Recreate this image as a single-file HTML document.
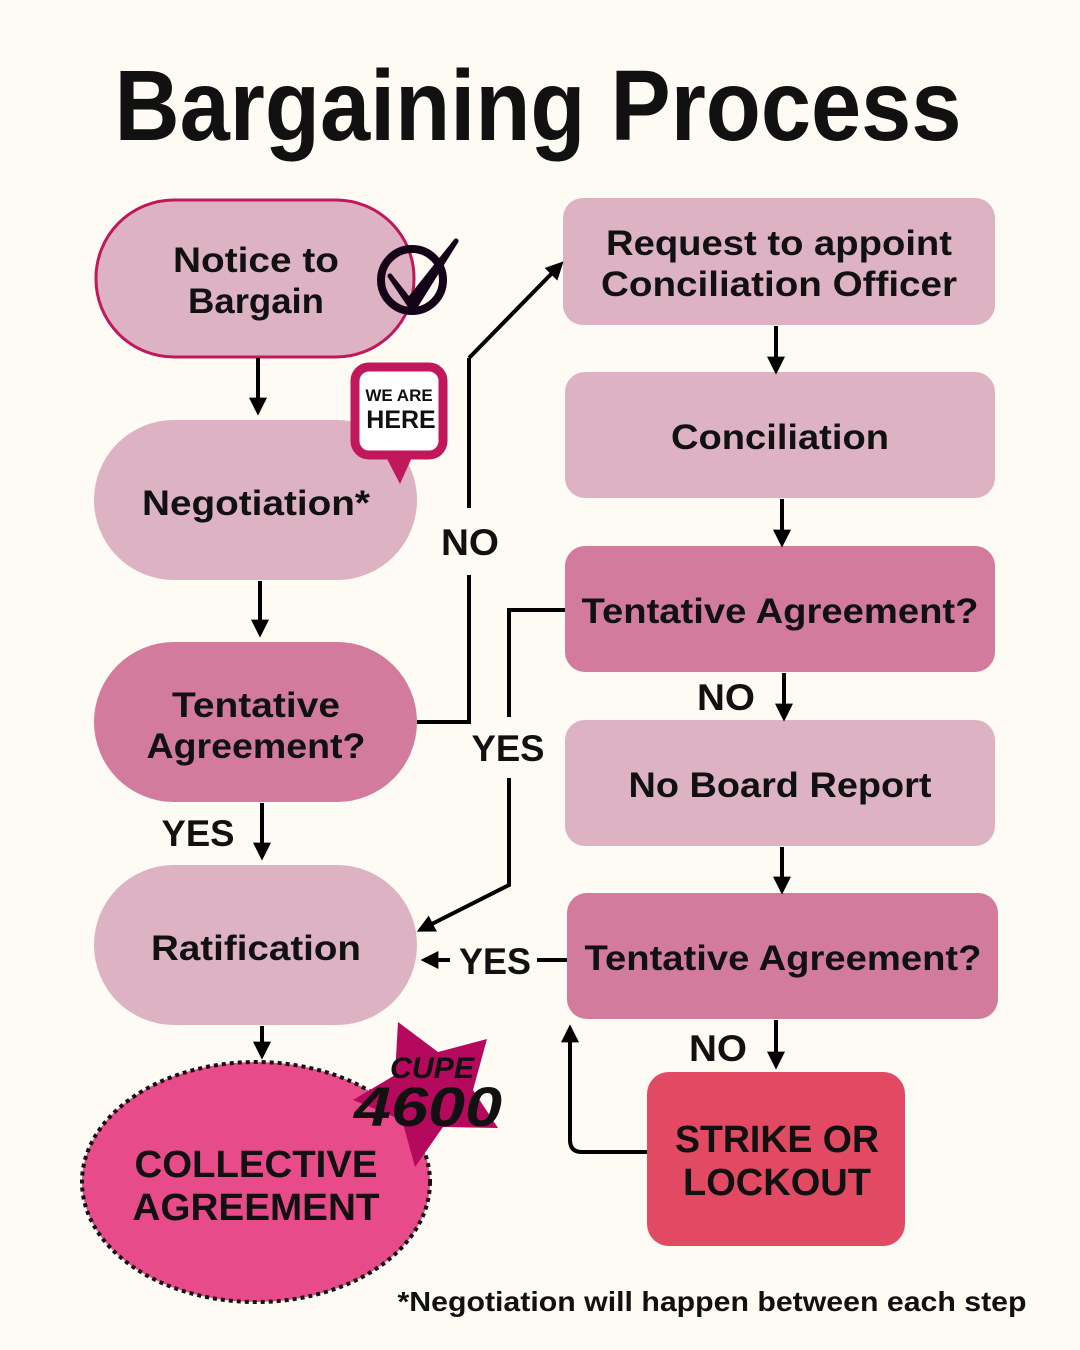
<!DOCTYPE html>
<html><head><meta charset="utf-8"><style>
html,body{margin:0;padding:0;background:#fefbf4;}
svg{display:block;}
text{font-family:"Liberation Sans",sans-serif;font-weight:bold;fill:#111;}
</style></head><body>
<svg width="1080" height="1350" viewBox="0 0 1080 1350" xmlns="http://www.w3.org/2000/svg">
<defs>
<marker id="ah" viewBox="0 0 10 10" refX="8" refY="5" markerWidth="4.5" markerHeight="4.5" orient="auto"><path d="M0,0 L10,5 L0,10 z" fill="#000"/></marker>
</defs>
<rect width="1080" height="1350" fill="#fefbf4"/>
<text x="538" y="140" font-size="100" text-anchor="middle" textLength="847" lengthAdjust="spacingAndGlyphs">Bargaining Process</text>

<!-- left column -->
<rect x="96" y="200" width="318" height="157" rx="78" fill="#ddb2c3" stroke="#c0185a" stroke-width="3"/>
<text x="256" y="272" font-size="35" text-anchor="middle" textLength="166" lengthAdjust="spacingAndGlyphs">Notice to</text>
<text x="256" y="313" font-size="35" text-anchor="middle" textLength="136" lengthAdjust="spacingAndGlyphs">Bargain</text>
<circle cx="412" cy="280" r="31" fill="none" stroke="#150418" stroke-width="8"/>
<path d="M390,276 L409,300 L456,241 L413,310 Z" fill="#150418" stroke="#150418" stroke-width="5" stroke-linejoin="round"/>

<rect x="94" y="420" width="323" height="160" rx="80" fill="#ddb2c3"/>
<text x="256" y="515" font-size="35" text-anchor="middle" textLength="228" lengthAdjust="spacingAndGlyphs">Negotiation*</text>
<!-- we are here -->
<rect x="355" y="367" width="88" height="88" rx="14" fill="#fff" stroke="#c0185a" stroke-width="9"/>
<path d="M385,455 L413,455 L400,484 Z" fill="#c0185a"/>
<text x="399" y="401" font-size="17" text-anchor="middle">WE ARE</text>
<text x="401" y="428" font-size="25" text-anchor="middle">HERE</text>

<rect x="94" y="642" width="323" height="160" rx="80" fill="#d27b9c"/>
<text x="256" y="717" font-size="35" text-anchor="middle" textLength="168" lengthAdjust="spacingAndGlyphs">Tentative</text>
<text x="256" y="758" font-size="35" text-anchor="middle" textLength="219" lengthAdjust="spacingAndGlyphs">Agreement?</text>

<rect x="94" y="865" width="323" height="160" rx="80" fill="#ddb2c3"/>
<text x="256" y="960" font-size="35" text-anchor="middle" textLength="210" lengthAdjust="spacingAndGlyphs">Ratification</text>

<ellipse cx="256" cy="1182" rx="174" ry="120" fill="#e84b8a" stroke="#111" stroke-width="4" stroke-dasharray="4,4"/>
<text x="256" y="1177" font-size="38" text-anchor="middle" textLength="243" lengthAdjust="spacingAndGlyphs">COLLECTIVE</text>
<text x="256" y="1220" font-size="38" text-anchor="middle" textLength="247" lengthAdjust="spacingAndGlyphs">AGREEMENT</text>
<!-- star -->
<path d="M398,1022 L438,1052 L487,1039 L473,1090 L498,1128 L443,1127 L415,1167 L402,1120 L353,1100 L395,1075 Z" fill="#b5095e"/>
<text x="432" y="1078" font-size="30" font-style="italic" text-anchor="middle" textLength="84" lengthAdjust="spacingAndGlyphs">CUPE</text>
<text x="428" y="1126" font-size="56" font-style="italic" text-anchor="middle" textLength="148" lengthAdjust="spacingAndGlyphs">4600</text>

<!-- right column -->
<rect x="563" y="198" width="432" height="127" rx="20" fill="#ddb2c3"/>
<text x="779" y="255" font-size="35" text-anchor="middle" textLength="346" lengthAdjust="spacingAndGlyphs">Request to appoint</text>
<text x="779" y="296" font-size="35" text-anchor="middle" textLength="356" lengthAdjust="spacingAndGlyphs">Conciliation Officer</text>
<rect x="565" y="372" width="430" height="126" rx="20" fill="#ddb2c3"/>
<text x="780" y="449" font-size="35" text-anchor="middle" textLength="218" lengthAdjust="spacingAndGlyphs">Conciliation</text>
<rect x="565" y="546" width="430" height="126" rx="20" fill="#d27b9c"/>
<text x="780" y="623" font-size="35" text-anchor="middle" textLength="397" lengthAdjust="spacingAndGlyphs">Tentative Agreement?</text>
<rect x="565" y="720" width="430" height="126" rx="20" fill="#ddb2c3"/>
<text x="780" y="797" font-size="35" text-anchor="middle" textLength="303" lengthAdjust="spacingAndGlyphs">No Board Report</text>
<rect x="567" y="893" width="431" height="126" rx="20" fill="#d27b9c"/>
<text x="783" y="970" font-size="35" text-anchor="middle" textLength="397" lengthAdjust="spacingAndGlyphs">Tentative Agreement?</text>
<rect x="647" y="1072" width="258" height="174" rx="22" fill="#e24a63"/>
<text x="777" y="1152" font-size="38" text-anchor="middle" textLength="204" lengthAdjust="spacingAndGlyphs">STRIKE OR</text>
<text x="777" y="1195" font-size="38" text-anchor="middle" textLength="188" lengthAdjust="spacingAndGlyphs">LOCKOUT</text>

<!-- arrows -->
<g stroke="#000" stroke-width="4" fill="none" marker-end="url(#ah)">
<line x1="258" y1="358" x2="258" y2="412"/>
<line x1="260" y1="581" x2="260" y2="634"/>
<line x1="262" y1="803" x2="262" y2="857"/>
<line x1="262" y1="1026" x2="262" y2="1056"/>
<line x1="776" y1="326" x2="776" y2="371"/>
<line x1="782" y1="499" x2="782" y2="544"/>
<line x1="784" y1="673" x2="784" y2="718"/>
<line x1="782" y1="847" x2="782" y2="891"/>
<line x1="776" y1="1020" x2="776" y2="1066"/>
<path d="M469,358 L469,358 L561,264"/>
<path d="M509,778 L509,885 L420,930"/>
<line x1="450" y1="960" x2="424" y2="960"/>
<path d="M647,1152 L582,1152 Q570,1152 570,1140 L570,1028"/>
</g>
<g stroke="#000" stroke-width="4" fill="none">
<path d="M417,722 L469,722 L469,575"/>
<path d="M469,508 L469,358"/>
<path d="M565,610 L509,610 L509,717"/>
<line x1="537" y1="960" x2="567" y2="960"/>
</g>
<text x="470" y="555" font-size="37" text-anchor="middle" textLength="58" lengthAdjust="spacingAndGlyphs">NO</text>
<text x="508" y="761" font-size="37" text-anchor="middle" textLength="73" lengthAdjust="spacingAndGlyphs">YES</text>
<text x="495" y="974" font-size="37" text-anchor="middle" textLength="72" lengthAdjust="spacingAndGlyphs">YES</text>
<text x="198" y="846" font-size="37" text-anchor="middle" textLength="73" lengthAdjust="spacingAndGlyphs">YES</text>
<text x="726" y="710" font-size="37" text-anchor="middle" textLength="58" lengthAdjust="spacingAndGlyphs">NO</text>
<text x="718" y="1061" font-size="37" text-anchor="middle" textLength="58" lengthAdjust="spacingAndGlyphs">NO</text>
<text x="712" y="1311" font-size="28" text-anchor="middle" textLength="629" lengthAdjust="spacingAndGlyphs">*Negotiation will happen between each step</text>
</svg>
</body></html>
